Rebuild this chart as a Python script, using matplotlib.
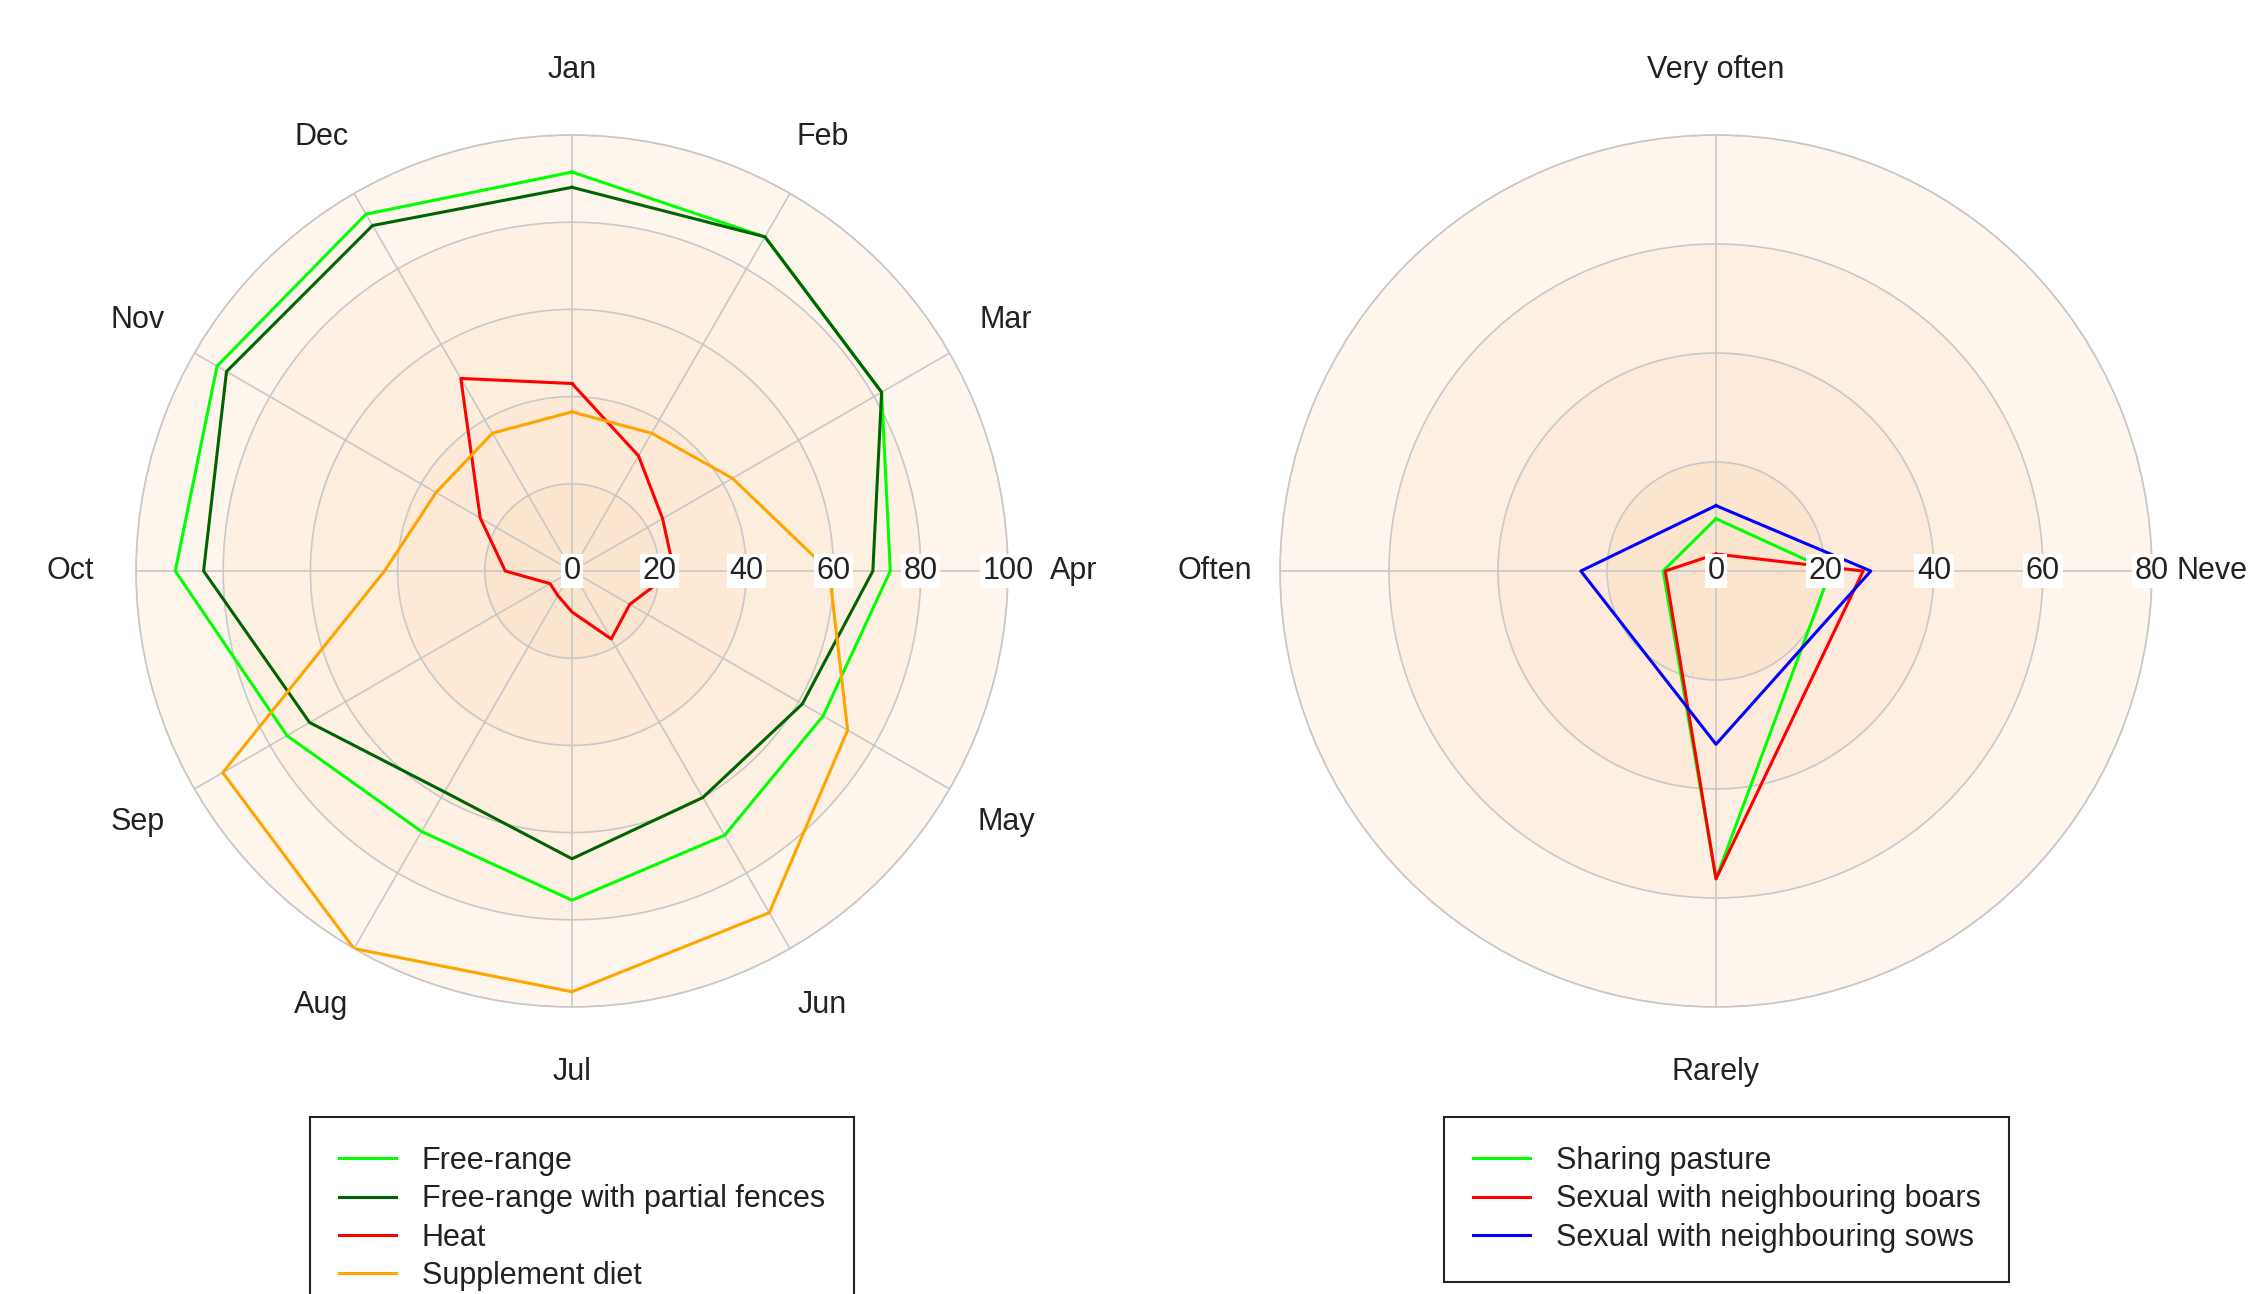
"""Two radar charts: monthly management practices (left) and contact frequency (right)."""

import numpy as np
import matplotlib

matplotlib.use("Agg")
import matplotlib.pyplot as plt

plt.rcParams["font.family"] = ["Liberation Sans", "DejaVu Sans"]

# left chart: % of farms per month
months = ["Jan", "Feb", "Mar", "Apr", "May", "Jun",
          "Jul", "Aug", "Sep", "Oct", "Nov", "Dec"]
free_range = [91.5, 88.5, 82, 73, 66.5, 70, 75.5, 69, 75.5, 91, 94, 94.5]
partial_fences = [88, 88.5, 82, 69, 61, 60, 66, 58.5, 69.5, 84.5, 91.5, 91.5]
heat = [43, 30.5, 24, 23.4, 15.3, 18, 9.4, 6.5, 5.8, 15.3, 24.3, 51]
supplement = [36.5, 36.5, 42.5, 59, 73, 90.5, 96.5, 100, 92.5, 43, 36, 36.5]
left_names = ["Free-range", "Free-range with partial fences", "Heat", "Supplement diet"]
left_colors = ["#00ff00", "#006400", "#ff0000", "#ffa500"]
left_ticks = [0, 20, 40, 60, 80, 100]

# right chart: % of farms per frequency of contact
freq = ["Very often", "Never", "Rarely", "Often"]
sharing = [9.6, 21, 56.5, 9.7]
boars = [3.1, 27, 56.5, 9.3]
sows = [12, 28.4, 31.8, 24.8]
right_names = ["Sharing pasture", "Sexual with neighbouring boars",
               "Sexual with neighbouring sows"]
right_colors = ["#00ff00", "#ff0000", "#0000ff"]
right_ticks = [0, 20, 40, 60, 80]

GRID = "#c8c8c8"
FS = 22


def radar(ax, cats, series, colors, ticks, bands, label_r):
    n = len(cats)
    theta = np.linspace(0, 2 * np.pi, n, endpoint=False)
    rmax = ticks[-1]
    ax.set_theta_zero_location("N")
    ax.set_theta_direction(-1)
    ax.set_ylim(0, rmax)
    ax.set_facecolor("none")

    # shaded rings, darker toward the centre
    tt = np.linspace(0, 2 * np.pi, 361)
    for i, c in enumerate(bands):
        ax.fill_between(tt, ticks[i], ticks[i + 1], color=c, lw=0, zorder=0)

    ax.set_xticks(theta)
    ax.set_xticklabels([])
    ax.set_yticks(ticks[1:])
    ax.set_yticklabels([])
    ax.grid(color=GRID, lw=1.2)
    ax.spines["polar"].set_color(GRID)
    ax.spines["polar"].set_linewidth(1.2)
    ax.tick_params(length=0)

    lines = []
    for vals, c in zip(series, colors):
        v = list(vals) + [vals[0]]
        t = list(theta) + [theta[0]]
        (ln,) = ax.plot(t, v, color=c, lw=2.2, zorder=3)
        lines.append(ln)

    for v in ticks:
        ax.text(np.pi / 2, v, str(v), ha="center", va="center", fontsize=FS,
                color="#222222", zorder=5,
                bbox=dict(boxstyle="square,pad=0.08", fc="white", ec="none"))

    for th, c in zip(theta, cats):
        ax.text(th, label_r, c, ha="center", va="center", fontsize=FS,
                color="#222222", clip_on=False)
    return lines


fig = plt.figure(figsize=(22.48, 12.94), dpi=100)
W, H = 2248, 1294
R = 436


def polar_axes(cx, cy):
    return fig.add_axes([(cx - R) / W, 1 - (cy + R) / H, 2 * R / W, 2 * R / H],
                        projection="polar")


ax1 = polar_axes(572, 571)
ax2 = polar_axes(1716, 571)

left_bands = ["#fce5cf", "#fde9d6", "#fdeddd", "#fef1e4", "#fef6ec"]
right_bands = ["#fce5cf", "#fdeada", "#fdf0e3", "#fef6ec"]

l1 = radar(ax1, months, [free_range, partial_fences, heat, supplement],
           left_colors, left_ticks, left_bands, 115)
l2 = radar(ax2, freq, [sharing, boars, sows], right_colors, right_ticks,
           right_bands, 92)

for handles, names, x in ((l1, left_names, 310), (l2, right_names, 1444)):
    leg = fig.legend(handles, names, loc="upper left",
                     bbox_to_anchor=(x / W, 1 - 1117 / H), fontsize=FS,
                     frameon=True, fancybox=False, framealpha=1,
                     edgecolor="#222222", handlelength=1.85,
                     handletextpad=0.85, labelspacing=0.27, borderpad=0.95,
                     borderaxespad=0)
    leg.get_frame().set_linewidth(1.5)
    for t in leg.get_texts():
        t.set_color("#222222")

fig.savefig("out.png", dpi=100)
